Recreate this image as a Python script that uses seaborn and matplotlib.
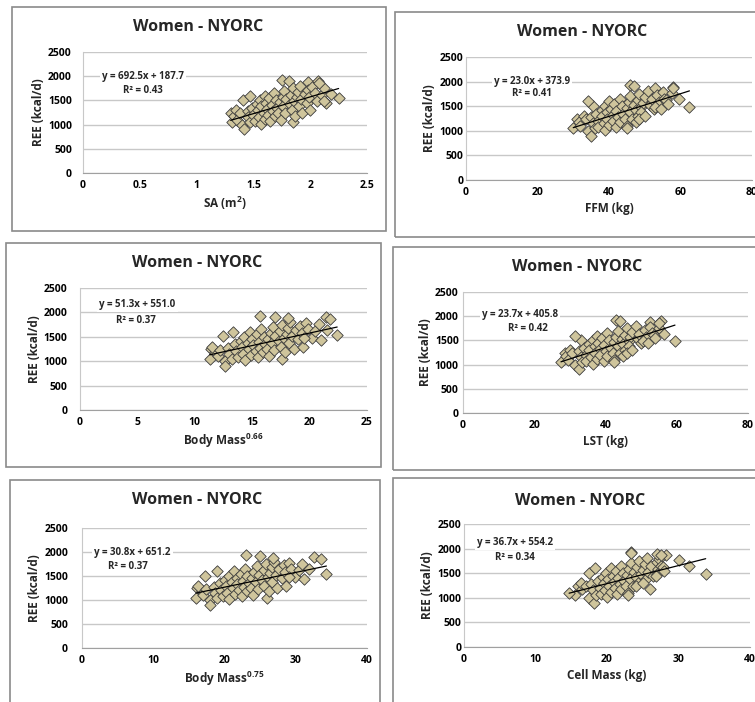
import numpy as np
import pandas as pd
import matplotlib
matplotlib.use("Agg")
import matplotlib.pyplot as plt
import seaborn as sns
from matplotlib.patches import Rectangle

# REE (kcal/d) for each subject, shared by all six panels
ree = [1250, 1050, 1180, 1300, 1100, 1230, 1000, 900, 1510, 1280, 1150, 1600, 1050, 1350, 1200, 1080,
       1420, 1300, 1150, 1500, 1020, 1380, 1250, 1600, 1120, 1450, 1330, 1200, 1550, 1080, 1400, 1280,
       1650, 1180, 1500, 1350, 1930, 1250, 1460, 1100, 1580, 1380, 1700, 1230, 1520, 1050, 1910, 1420,
       1620, 1300, 1750, 1480, 1180, 1560, 1680, 1380, 1800, 1520, 1250, 1640, 1880, 1450, 1720, 1580,
       1300, 1780, 1650, 1480, 1900, 1620, 1760, 1440, 1860, 1640, 1540, 1480]

sa = [1.30, 1.31, 1.33, 1.35, 1.36, 1.38, 1.40, 1.42, 1.41, 1.45, 1.45, 1.47, 1.47, 1.49, 1.50, 1.51,
      1.53, 1.54, 1.55, 1.56, 1.57, 1.57, 1.59, 1.60, 1.60, 1.61, 1.62, 1.63, 1.64, 1.65, 1.66, 1.67,
      1.68, 1.69, 1.70, 1.71, 1.75, 1.72, 1.73, 1.74, 1.76, 1.76, 1.77, 1.78, 1.79, 1.85, 1.81, 1.82,
      1.83, 1.84, 1.85, 1.86, 1.87, 1.88, 1.89, 1.90, 1.91, 1.92, 1.93, 1.95, 1.98, 1.97, 1.98, 1.99,
      2.00, 2.02, 2.04, 2.06, 2.07, 2.10, 2.12, 2.14, 2.08, 2.18, 2.25, 2.12]

ffm = [31.0, 30.0, 31.5, 33.0, 32.0, 33.5, 34.0, 35.0, 35.5, 35.0, 35.5, 34.0, 36.0, 36.5, 37.0, 37.0,
       38.0, 38.0, 38.5, 39.0, 39.0, 39.5, 39.5, 40.0, 40.0, 40.5, 41.0, 41.0, 41.5, 42.0, 42.0, 42.5,
       43.0, 43.0, 43.5, 44.0, 46.0, 44.5, 45.0, 45.0, 45.5, 46.0, 46.0, 46.5, 47.0, 45.0, 47.0, 47.5,
       48.0, 48.0, 48.5, 49.0, 47.5, 49.5, 50.0, 49.0, 51.0, 51.5, 48.5, 52.0, 53.0, 52.5, 53.5, 54.0,
       50.0, 55.0, 55.5, 53.0, 58.0, 56.0, 57.5, 54.5, 58.0, 59.5, 56.5, 62.5]

bm066 = [11.4, 11.3, 11.8, 11.5, 12.0, 12.2, 12.6, 12.6, 12.5, 12.9, 13.0, 13.3, 13.2, 13.5, 13.6, 13.8,
         14.0, 14.1, 14.2, 14.3, 14.4, 14.6, 14.7, 14.8, 14.9, 15.0, 15.1, 15.3, 15.4, 15.5, 15.6, 15.7,
         15.8, 15.9, 16.0, 16.1, 15.7, 16.3, 16.4, 16.5, 16.6, 16.7, 16.8, 16.9, 17.0, 17.6, 17.0, 17.3,
         17.4, 17.5, 17.6, 17.8, 17.9, 18.0, 18.1, 18.2, 18.3, 18.5, 18.6, 18.8, 18.1, 19.0, 19.2, 19.3,
         19.4, 19.7, 19.9, 20.2, 21.4, 20.5, 20.8, 21.0, 21.8, 21.5, 22.4, 19.5]

lst = [28.5, 27.5, 29.0, 30.0, 29.5, 30.5, 31.5, 32.5, 33.0, 32.5, 33.0, 31.5, 33.5, 34.0, 34.5, 34.5,
       35.5, 35.5, 36.0, 36.5, 36.5, 37.0, 37.0, 37.5, 37.5, 38.0, 38.5, 38.5, 39.0, 39.5, 39.5, 40.0,
       40.5, 40.5, 41.0, 41.5, 43.0, 42.0, 42.5, 42.5, 43.0, 43.5, 43.5, 44.0, 44.5, 42.5, 44.0, 45.0,
       45.5, 45.5, 46.0, 46.5, 45.0, 47.0, 47.5, 46.5, 48.5, 49.0, 46.0, 49.5, 52.5, 50.0, 51.0, 51.5,
       47.5, 52.5, 53.0, 50.5, 55.5, 53.5, 55.0, 52.0, 55.0, 56.5, 54.0, 59.5]

bm075 = [16.2, 16.0, 16.8, 16.3, 17.0, 17.4, 18.0, 18.0, 17.3, 18.5, 18.6, 19.0, 18.9, 19.3, 19.5, 19.8,
         20.1, 20.2, 20.4, 20.6, 20.7, 21.0, 21.2, 21.3, 21.5, 21.7, 21.8, 22.1, 22.3, 22.4, 22.6, 22.8,
         22.9, 23.1, 23.2, 23.4, 23.0, 23.7, 23.9, 24.0, 24.2, 24.4, 24.5, 24.7, 24.9, 26.0, 25.0, 25.3,
         25.5, 25.6, 25.8, 26.1, 26.2, 26.4, 26.6, 26.7, 26.9, 27.2, 27.4, 27.7, 26.8, 28.0, 28.3, 28.5,
         28.7, 29.1, 29.4, 29.9, 32.5, 30.4, 30.9, 31.2, 33.5, 31.9, 34.3, 29.0]

cell_mass = [16.0, 15.5, 16.5, 16.3, 14.7, 17.0, 17.5, 18.2, 17.5, 17.8, 18.0, 18.3, 18.5, 18.8, 19.0, 19.2,
             19.4, 19.6, 19.7, 19.9, 20.0, 20.2, 20.3, 20.5, 20.6, 20.8, 21.0, 21.1, 21.3, 21.4, 21.6, 21.8,
             21.9, 22.0, 22.2, 22.4, 23.3, 22.6, 22.8, 22.9, 23.1, 23.2, 23.4, 23.6, 23.8, 23.0, 23.4, 24.0,
             24.2, 24.3, 24.5, 24.7, 26.0, 25.0, 25.3, 25.5, 25.6, 25.8, 24.0, 26.2, 28.3, 26.5, 27.0, 27.2,
             25.0, 27.3, 27.6, 27.0, 27.0, 27.8, 30.0, 26.8, 27.5, 31.5, 28.0, 33.8]

# trendline equations as printed on the charts
slopes = [692.5, 23.0, 51.3, 23.7, 30.8, 36.7]
intercepts = [187.7, 373.9, 551.0, 405.8, 651.2, 554.2]
r2 = ["0.43", "0.41", "0.37", "0.42", "0.37", "0.34"]
eq_labels = ["y = 692.5x + 187.7", "y = 23.0x + 373.9", "y = 51.3x + 551.0",
             "y = 23.7x + 405.8", "y = 30.8x + 651.2", "y = 36.7x + 554.2"]
x_labels = ["SA (m$^{2}$)", "FFM (kg)", "Body Mass$^{0.66}$",
            "LST (kg)", "Body Mass$^{0.75}$", "Cell Mass (kg)"]
x_max = [2.5, 80, 25, 80, 40, 40]
x_step = [0.5, 20, 5, 20, 10, 10]
x_series = [sa, ffm, bm066, lst, bm075, cell_mass]

sns.set_style("white")
plt.rcParams["font.family"] = ["Open Sans", "DejaVu Sans"]
plt.rcParams["mathtext.fontset"] = "custom"
plt.rcParams["mathtext.rm"] = "Open Sans:bold"
plt.rcParams["mathtext.it"] = "Open Sans:bold"
plt.rcParams["mathtext.bf"] = "Open Sans:bold"

W, H = 755, 702
fig = plt.figure(figsize=(W / 100, H / 100), dpi=100)

# layout in pixels: chart box, plot area, title centre, equation positions (data units)
boxes = [(12, 7, 386, 231), (395, 12, 770, 237), (6, 243, 381, 467),
         (393, 247, 770, 470), (10, 480, 380, 712), (393, 478, 770, 712)]
areas = [(83, 52, 367, 173), (466, 57, 752, 180), (80, 288, 367, 410),
         (463, 292, 748, 413), (82, 528, 367, 648), (464, 524, 750, 647)]
title_xy = [(198, 27), (582, 32), (197, 263), (577, 267), (197, 500), (580, 501)]
eq_pos = [(0.53, 2004, 0.53, 1700), (18.4, 2012, 18.4, 1768), (5.0, 2166, 4.85, 1844),
          (16.0, 2045, 18.3, 1736), (7.1, 2000, 6.5, 1700), (7.1, 2120, 7.1, 1823)]
ytick_pad = [8, 2, 9, 3, 10, 2]

for i in range(6):
    bl, bt, br, bb = boxes[i]
    fig.add_artist(Rectangle((bl / W, 1 - bb / H), (br - bl) / W, (bb - bt) / H,
                             transform=fig.transFigure, fill=False,
                             edgecolor="#8a8a8a", lw=1.2))
    al, at, ar, ab = areas[i]
    ax = fig.add_axes([al / W, 1 - ab / H, (ar - al) / W, (ab - at) / H])

    df = pd.DataFrame({"x": x_series[i], "ree": ree})
    sns.scatterplot(data=df, x="x", y="ree", marker="D", s=34, color="#cfc59c",
                    edgecolor="#3a3a3a", linewidth=0.6, ax=ax, zorder=3)
    xs = np.array([min(x_series[i]), max(x_series[i])])
    ax.plot(xs, slopes[i] * xs + intercepts[i], color="black", lw=0.9, zorder=4)

    ax.set_xlim(0, x_max[i])
    ax.set_ylim(0, 2500)
    ax.set_xticks(np.arange(0, x_max[i] + x_step[i] / 2, x_step[i]))
    ax.set_yticks(range(0, 2501, 500))
    if i == 0:
        ax.set_xticklabels(["0", "0.5", "1", "1.5", "2", "2.5"])
    ax.yaxis.grid(True, color="#c8c8c8", lw=1)
    ax.set_axisbelow(True)
    for s in ["top", "right"]:
        ax.spines[s].set_visible(False)
    ax.spines["left"].set_color("#c8c8c8")
    ax.spines["bottom"].set_color("#a0a0a0")
    ax.tick_params(axis="both", length=0, labelsize=7.5, colors="black")
    ax.tick_params(axis="y", pad=ytick_pad[i])
    ax.tick_params(axis="x", pad=5)
    for lab in ax.get_xticklabels() + ax.get_yticklabels():
        lab.set_fontweight("bold")
    ax.set_xlabel(x_labels[i], fontsize=8.5, fontweight="bold", labelpad=3)
    ax.set_ylabel("REE (kcal/d)", fontsize=8.5, fontweight="bold", labelpad=2)

    x1, y1, x2, y2 = eq_pos[i]
    ax.text(x1, y1, eq_labels[i], ha="center", va="center", fontsize=7,
            fontweight="bold", zorder=5,
            bbox=dict(facecolor="white", edgecolor="none", pad=1.5))
    ax.text(x2, y2, "R² = " + r2[i], ha="center", va="center", fontsize=7,
            fontweight="bold", zorder=5)

    tx, ty = title_xy[i]
    fig.text(tx / W, 1 - ty / H, "Women - NYORC", ha="center", va="center",
             fontsize=11.5, fontweight="bold")

fig.savefig("out.png", dpi=100)
